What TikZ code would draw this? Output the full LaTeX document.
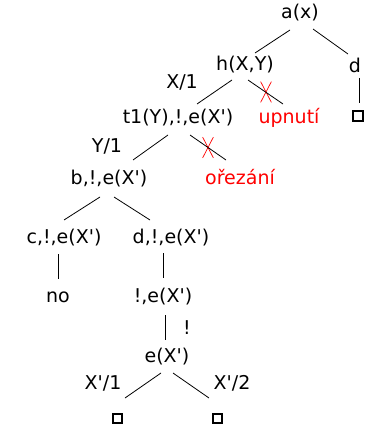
\documentclass[tikz,border=0pt]{standalone}
\usepackage{fontspec}
\setmainfont{DejaVu Sans}[Ligatures=TeXOff]
\usetikzlibrary{shapes.misc}
\begin{document}
\begin{tikzpicture}[x=1pt,y=-1pt,
  lbl/.style={font=\fontsize{19}{22}\selectfont, inner sep=0pt},
  red lbl/.style={lbl, text=red},
  leaf/.style={draw, line width=1.6pt, minimum size=9.5pt, inner sep=0pt},
  cut/.style={draw=red, cross out, minimum width=10pt, minimum height=20pt, inner sep=0pt, line width=0.7pt},
  edge/.style={line width=0.8pt}]
\useasboundingbox (0,0) rectangle (371,430);
\node[lbl] (a) at (300,13) {a(x)};
\node[lbl] (h) at (245,65) {h(X,Y)};
\node[lbl] (d) at (355,65) {d};
\node[leaf] (bd) at (358,116) {};
\node[lbl] (t1) at (178,118) {t1(Y),!,e(X')};
\node[red lbl] (up) at (289,118) {upnutí};
\node[lbl] (x1) at (182,82) {X/1};
\node[lbl] (y1) at (107,146) {Y/1};
\node[lbl] (b) at (109,179) {b,!,e(X')};
\node[red lbl] (or) at (240,177) {ořezání};
\node[lbl] (c) at (64,238) {c,!,e(X')};
\node[lbl] (dd) at (171,238) {d,!,e(X')};
\node[lbl] (no) at (58,297) {no};
\node[lbl] (ce) at (163,297) {!,e(X')};
\node[lbl] (cut) at (187,328) {!};
\node[lbl] (e) at (167,357) {e(X')};
\node[lbl] (xa) at (103,383) {X'/1};
\node[lbl] (xb) at (232,383) {X'/2};
\node[leaf] (b1) at (117.5,418.5) {};
\node[leaf] (b2) at (217.5,418.5) {};
\node[cut] (k1) at (266,92) {};
\node[cut] (k2) at (208,147.5) {};

\draw[edge] ([shift={(-10,17)}]a.center) -- ([shift={(10,-12)}]h.center);
\draw[edge] ([shift={(13,16)}]a.center) -- ([shift={(-7,-11)}]d.center);
\draw[edge] ([shift={(4,13)}]d.center) -- ([shift={(1,-13)}]bd.center);
\draw[edge] ([shift={(-13,15)}]h.center) -- ([shift={(19,-14)}]t1.center);
\draw[edge] ([shift={(3,15)}]h.center) -- ([shift={(-6,-14)}]up.center);
\draw[edge] ([shift={(-10,17)}]t1.center) -- ([shift={(24,-19)}]b.center);
\draw[edge] ([shift={(12,17)}]t1.center) -- ([shift={(-14,-17)}]or.center);
\draw[edge] ([shift={(-9,18)}]b.center) -- ([shift={(0,-18)}]c.center);
\draw[edge] ([shift={(5,18)}]b.center) -- ([shift={(-21,-18)}]dd.center);
\draw[edge] ([shift={(-6,16)}]c.center) -- ([shift={(0,-18)}]no.center);
\draw[edge] ([shift={(-8,15)}]dd.center) -- ([shift={(0,-19)}]ce.center);
\draw[edge] ([shift={(2,18)}]ce.center) -- ([shift={(-2,-17)}]e.center);
\draw[edge] ([shift={(-6,16)}]e.center) -- ([shift={(7.5,-20.5)}]b1.center);
\draw[edge] ([shift={(6,16)}]e.center) -- ([shift={(-8.5,-20.5)}]b2.center);
\end{tikzpicture}
\end{document}
